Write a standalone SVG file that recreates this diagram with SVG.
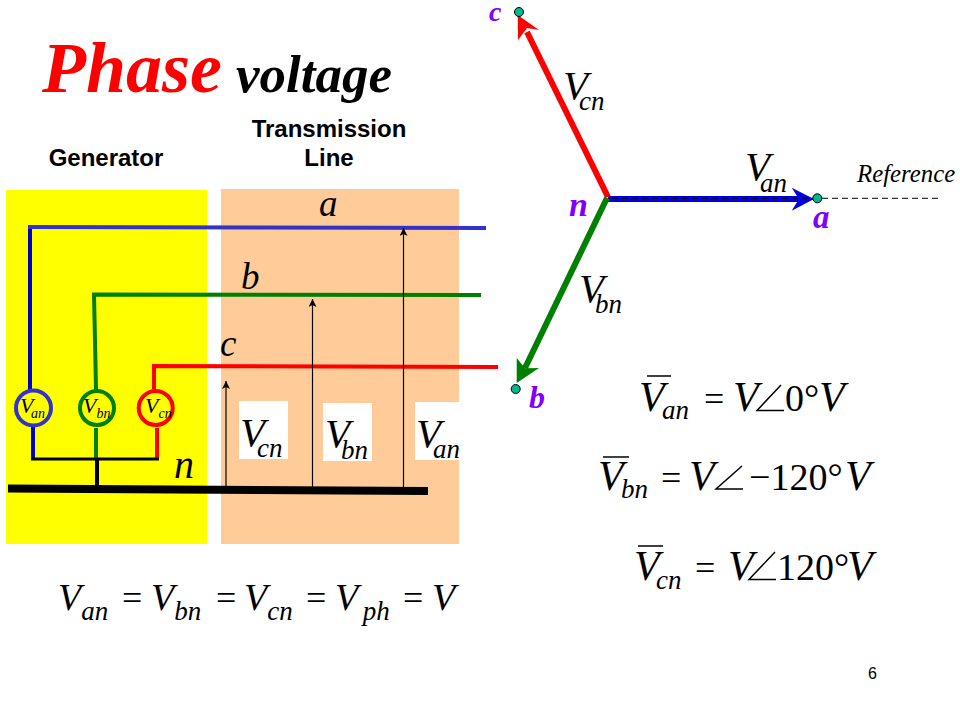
<svg xmlns="http://www.w3.org/2000/svg" width="960" height="720" viewBox="0 0 960 720">
<style>
.s{font-family:"Liberation Serif",serif;font-style:italic;fill:#000}
.u{font-family:"Liberation Serif",serif;fill:#000}
.h{font-family:"Liberation Sans",sans-serif;font-weight:bold;font-size:24px;text-anchor:middle;fill:#000}
.p{font-family:"Liberation Serif",serif;font-style:italic;font-weight:bold;fill:#8000ff}
.w{fill:none;stroke-linejoin:miter}
.d{fill:#00b890;stroke:#000;stroke-width:1}
.a{fill:none;stroke:#000;stroke-width:1.5}
.m{fill:#ffff00;stroke-width:4}
.l{font-size:41px}
.e{font-size:42px}
.q{font-size:36px}
.n{font-size:38px}
.f{font-size:38px}
.b{font-size:27px}
.t{font-size:14px}
.i{font-size:22px}
</style>
<defs>
<marker id="thin" markerUnits="userSpaceOnUse" markerWidth="10" markerHeight="10" refX="8" refY="4" orient="auto"><path d="M0 0L8 4L0 8L2 4Z" fill="#000"/></marker>
</defs>
<rect width="960" height="720" fill="#fff"/>
<rect x="6" y="190" width="201" height="354" fill="#ffff00"/>
<rect x="221" y="189" width="238" height="355" fill="#ffcc99"/>
<rect x="239" y="401" width="49" height="58" fill="#fff"/>
<rect x="323" y="403" width="49" height="58" fill="#fff"/>
<rect x="415" y="402" width="44" height="58" fill="#fff"/>
<text x="42" y="92" font-family="Liberation Serif,serif" font-style="italic" font-weight="bold" font-size="72" fill="#ff0000">Phase</text>
<text x="236" y="92" font-family="Liberation Serif,serif" font-style="italic" font-weight="bold" font-size="53" fill="#000">voltage</text>
<text x="106" y="166" class="h">Generator</text>
<text x="329" y="137" class="h">Transmission</text>
<text x="329" y="166" class="h">Line</text>
<g id="connectors">
<path class="w" d="M30 399V227" stroke="#0000cc" stroke-width="4"/>
<path class="w" d="M486 228L28 227" stroke="#3333cc" stroke-width="4"/>
<path class="w" d="M481 295L94 294.500L96 389" stroke="#008000" stroke-width="4"/>
<path class="w" d="M498 367L154 366V389" stroke="#ff0000" stroke-width="4"/>
<path class="w" d="M33 426V459" stroke="#0000cc" stroke-width="4"/>
<path class="w" d="M96 428V459" stroke="#008000" stroke-width="4"/>
<path class="w" d="M157 428V459" stroke="#ff0000" stroke-width="4"/>
<path class="w" d="M31 459H159" stroke="#000" stroke-width="3"/>
<path class="w" d="M97 459V486" stroke="#000" stroke-width="4"/>
<path d="M8 484.500L428 487V495L8 492.500Z" fill="#000"/>
<path class="w" d="M226 487V381" stroke="#000" stroke-width="1.200" marker-end="url(#thin)"/>
<path class="w" d="M312.500 488V299" stroke="#000" stroke-width="1.200" marker-end="url(#thin)"/>
<path class="w" d="M403.500 488V228" stroke="#000" stroke-width="1.200" marker-end="url(#thin)"/>
<path d="M608 199H802" stroke="#0000e0" stroke-width="6"/>
<path d="M791.700 187.700L814 199L791.700 210.700L799 199Z" fill="#0000e0"/>
<path d="M608 197L527 32" stroke="#ff0000" stroke-width="6"/>
<path d="M517.700 15L539 30L527 28L518 40Z" fill="#ff0000"/>
<path d="M607 198L525 368" stroke="#008000" stroke-width="6"/>
<path d="M516.700 383L516.700 358L525 368.300L539 368Z" fill="#008000"/>
<path d="M612 198.300H940" stroke="#000" stroke-width="1" stroke-dasharray="6 4" fill="none"/>
</g>
<g id="meter-a"><circle cx="33.500" cy="408" r="17.500" class="m" stroke="#3333cc"/><text x="20" y="413" class="s i">V<tspan class="t" dx="-2.400" dy="5">an</tspan></text></g>
<g id="meter-b"><circle cx="97" cy="408" r="17" class="m" stroke="#008000"/><text x="83" y="413" class="s i">V<tspan class="t" dy="5">bn</tspan></text></g>
<g id="meter-c"><circle cx="155.700" cy="408" r="17" class="m" stroke="#ff0000"/><text x="145" y="413" class="s i">V<tspan class="t" dy="5">cn</tspan></text></g>
<g id="dot-c"><circle cx="519" cy="12" r="4.500" class="d"/></g>
<g id="dot-a"><circle cx="817.300" cy="198.300" r="4.500" class="d"/></g>
<g id="dot-b"><circle cx="515.700" cy="389" r="4.500" class="d"/></g>
<text x="319" y="216" class="s" font-size="37">a</text>
<text x="241" y="289" class="s" font-size="37">b</text>
<text x="220" y="356" class="s" font-size="37">c</text>
<text x="174" y="478" class="s" font-size="40">n</text>
<text x="240" y="446" class="s l">V<tspan class="b" dx="-8" dy="11">cn</tspan></text>
<text x="325" y="447" class="s l">V<tspan class="b" dx="-9" dy="12">bn</tspan></text>
<text x="416" y="447" class="s l">V<tspan class="b" dx="-8" dy="11">an</tspan></text>
<text x="563" y="99" class="s l">V<tspan class="b" dx="-9" dy="11">cn</tspan></text>
<text x="745" y="180" class="s l">V<tspan class="b" dx="-10" dy="12">an</tspan></text>
<text x="579" y="302" class="s l">V<tspan class="b" dx="-9" dy="11">bn</tspan></text>
<text x="857" y="182" class="s" font-size="24.800">Reference</text>
<text x="489" y="21" class="p" font-size="28">c</text>
<text x="569" y="216" class="p" font-size="34">n</text>
<text x="813" y="228" class="p" font-size="33">a</text>
<text x="529" y="408" class="p" font-size="32">b</text>
<g id="eq-1">
<path class="a" d="M647 376H671"/>
<text x="639" y="411" class="s e">V<tspan class="b" dx="-2.700" dy="8">an</tspan></text>
<text x="704" y="411" class="u q">=</text>
<text x="733" y="411" class="s e">V</text>
<path class="a" d="M781 385L757 410.500H784"/>
<text x="785" y="411" class="u n">0°</text>
<text x="819" y="411" class="s e">V</text>
</g>
<g id="eq-2">
<path class="a" d="M603 457H629"/>
<text x="598" y="490" class="s e">V<tspan class="b" dx="-2.700" dy="8">bn</tspan></text>
<text x="661" y="490" class="u q">=</text>
<text x="689" y="490" class="s e">V</text>
<path class="a" d="M742 466L716 489H743"/>
<text x="749" y="490" class="u n">−120°</text>
<text x="845" y="490" class="s e">V</text>
</g>
<g id="eq-3">
<path class="a" d="M638 546H663"/>
<text x="634" y="580" class="s e">V<tspan class="b" dx="-3.700" dy="9">cn</tspan></text>
<text x="695" y="580" class="u q">=</text>
<text x="728" y="580" class="s e">V</text>
<path class="a" d="M775 552L749 579.500H776"/>
<text x="777" y="580" class="u n">120°</text>
<text x="847" y="580" class="s e">V</text>
</g>
<g id="eq-4">
<text x="58" y="610" class="s f">V<tspan class="b" dy="10">an</tspan></text>
<text x="122" y="610" class="u q">=</text>
<text x="151" y="610" class="s f">V<tspan class="b" dy="10">bn</tspan></text>
<text x="216" y="610" class="u q">=</text>
<text x="244" y="610" class="s f">V<tspan class="b" dy="10">cn</tspan></text>
<text x="306" y="610" class="u q">=</text>
<text x="335" y="610" class="s f">V<tspan class="b" dx="4.500" dy="10">ph</tspan></text>
<text x="403" y="610" class="u q">=</text>
<text x="432" y="610" class="s f">V</text>
</g>
<text x="868" y="679" font-family="Liberation Sans,sans-serif" font-size="16" fill="#000">6</text>
</svg>
